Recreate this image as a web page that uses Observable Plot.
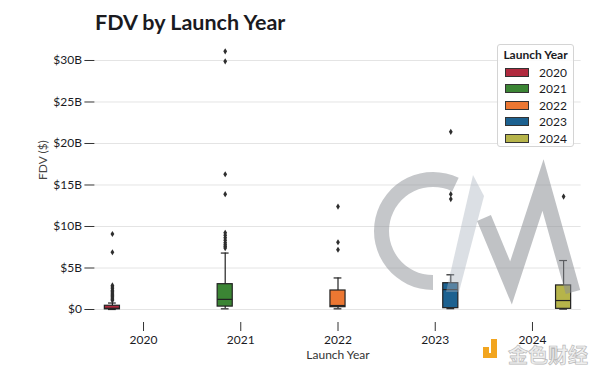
<!DOCTYPE html>
<html>
<head>
<meta charset="utf-8">
<script src="https://cdn.jsdelivr.net/npm/d3@7"></script>
<script src="https://cdn.jsdelivr.net/npm/@observablehq/plot@0.6"></script>
<style>
  html, body { margin: 0; padding: 0; background: #fff; }
  #wrap { position: relative; width: 600px; height: 373px; font-family: Lato, "Open Sans", sans-serif; overflow: hidden; }
  #title { position: absolute; left: 95px; top: 9px; font-size: 21.5px; font-weight: 700; color: #1b1b1f; white-space: nowrap; }
  #legend { position: absolute; left: 497px; top: 44px; width: 77px; height: 103px; border: 1px solid #d4d4d4; border-radius: 3px; background: rgba(255,255,255,0.85); box-sizing: border-box; }
  #legend .lt { position: absolute; left: 0; width: 100%; top: 2px; text-align: center; font-size: 12px; font-weight: 700; color: #1b1b1f; }
  #legend .row { position: absolute; left: 7px; height: 14px; display: flex; align-items: center; font-size: 12px; color: #1b1b1f; }
  #legend .sw { width: 24px; height: 9px; border: 1px solid #333; box-sizing: border-box; margin-right: 10px; }
  #wm { position: absolute; left: 0; top: 0; pointer-events: none; }
</style>
</head>
<body>
<div id="wrap">
  <div id="chart"></div>
  <div id="title">FDV by Launch Year</div>
  <div id="legend"></div>
</div>
<script>
// ---- data (values in billions of USD) ----
const years = ["2020", "2021", "2022", "2023", "2024"];
const colors = ["#b02a3e", "#3b8534", "#ec7732", "#1c6190", "#b6b44a"];
const whiskerLow  = [0.00, 0.08, 0.08, 0.10, 0.05];
const q1          = [0.02, 0.35, 0.28, 0.16, 0.08];
const median      = [0.15, 1.22, 0.48, 2.40, 1.08];
const q3          = [0.45, 3.05, 2.29, 3.17, 2.90];
const whiskerHigh = [0.78, 6.80, 3.80, 4.18, 5.90];
const outliers2020 = [9.1, 6.9, 2.9, 2.7, 2.5, 2.3, 2.15, 2.0, 1.85, 1.7, 1.55, 1.4, 1.25, 1.1];
const outliers2021 = [31.1, 29.9, 16.3, 13.9, 9.25, 8.95, 8.65, 8.35, 8.05, 7.8, 7.6, 7.4];
const outliers2022 = [12.4, 8.1, 7.2];
const outliers2023 = [21.4, 13.9, 13.3];
const outliers2024 = [13.6];
const yTicks = [0, 5, 10, 15, 20, 25, 30];
const yTickLabels = ["$0", "$5B", "$10B", "$15B", "$20B", "$25B", "$30B"];

// ---- build tables ----
const B = 1e9;
const n = years.length;
const dodge = 0.8 / n;
const boxes = years.map((y, i) => ({
  year: y, color: colors[i],
  pos: i + (i - (n - 1) / 2) * dodge,
  lo: whiskerLow[i] * B, q1: q1[i] * B, med: median[i] * B, q3: q3[i] * B, hi: whiskerHigh[i] * B
}));
const outlierLists = [outliers2020, outliers2021, outliers2022, outliers2023, outliers2024];
const flyers = outlierLists.flatMap((arr, i) => arr.map(v => ({pos: boxes[i].pos, v: v * B})));

const bw = dodge * 0.97 / 2;
const cw = dodge / 4;

const thinDiamond = {
  draw(ctx, size) {
    const h = Math.sqrt(size) * 0.72;
    const w = h * 0.62;
    ctx.moveTo(0, -h); ctx.lineTo(w, 0); ctx.lineTo(0, h); ctx.lineTo(-w, 0); ctx.closePath();
  }
};

const plot = Plot.plot({
  width: 600,
  height: 373,
  marginLeft: 94.4,
  marginRight: 19.4,
  marginTop: 37,
  marginBottom: 51,
  style: {fontFamily: "Lato, 'Open Sans', sans-serif", fontSize: "12px", color: "#1b1b1f", background: "transparent"},
  x: {type: "linear", domain: [-0.5, n - 0.5]},
  y: {domain: [-1.566 * B, 32.77 * B]},
  marks: [
    Plot.gridY(yTicks.map(t => t * B), {stroke: "#e4e4e4", strokeOpacity: 1}),
    Plot.axisY(yTicks.map(t => t * B), {tickFormat: (d, i) => yTickLabels[i], tickSize: 10, tickPadding: 3, label: null, stroke: "#333", fontSize: 12}),
    Plot.axisX([0, 1, 2, 3, 4], {tickFormat: d => years[d], tickSize: 9, tickPadding: 4, label: null, stroke: "#333", fontSize: 12}),
    Plot.text(["Launch Year"], {text: d => d, frameAnchor: "bottom", dy: 32.5, fontSize: 12, fill: "#333", lineAnchor: "middle"}),
    Plot.text(["FDV ($)"], {text: d => d, frameAnchor: "left", dx: -52, rotate: -90, fontSize: 12, fill: "#444", lineAnchor: "middle"}),
    Plot.ruleX(boxes, {x: "pos", y1: "q3", y2: "hi", stroke: "#222", strokeWidth: 1.2}),
    Plot.ruleX(boxes, {x: "pos", y1: "lo", y2: "q1", stroke: "#222", strokeWidth: 1.2}),
    Plot.ruleY(boxes, {y: "hi", x1: d => d.pos - cw, x2: d => d.pos + cw, stroke: "#222", strokeWidth: 1.2}),
    Plot.ruleY(boxes, {y: "lo", x1: d => d.pos - cw, x2: d => d.pos + cw, stroke: "#222", strokeWidth: 1.2}),
    Plot.rect(boxes, {x1: d => d.pos - bw, x2: d => d.pos + bw, y1: "q1", y2: "q3", fill: "color", stroke: "#222", strokeWidth: 1.2}),
    Plot.ruleY(boxes, {y: "med", x1: d => d.pos - bw, x2: d => d.pos + bw, stroke: "#222", strokeWidth: 1.2}),
    Plot.dot(flyers, {x: "pos", y: "v", symbol: thinDiamond, r: 2.4, fill: "#2e2e2e", stroke: "none"})
  ]
});
document.getElementById("chart").appendChild(plot);

// ---- legend ----
const leg = document.getElementById("legend");
leg.innerHTML = '<div class="lt">Launch Year</div>' + years.map((y, i) =>
  `<div class="row" style="top:${20 + i * 16.5}px"><div class="sw" style="background:${colors[i]}"></div>${y}</div>`).join("");

// ---- watermark (decorative overlay) ----
const wm = d3.select("#wrap").append("svg").attr("id", "wm").attr("width", 600).attr("height", 373);
const arc = d3.arc().innerRadius(44).outerRadius(59).startAngle(Math.PI).endAngle(2 * Math.PI + 0.45);
wm.append("path").attr("d", arc()).attr("transform", "translate(433,231)").attr("fill", "rgba(140,143,150,0.5)");
wm.append("path").attr("d", "M473,175 L484,196 L459,292 L446,292 Z").attr("fill", "rgba(170,178,190,0.42)");
wm.append("path").attr("d", "M484,218 L511,283 L543,185 L573,292").attr("fill", "none")
  .attr("stroke", "rgba(140,143,150,0.55)").attr("stroke-width", 15).attr("stroke-linejoin", "miter");
const logo = wm.append("g");
logo.append("rect").attr("x", 483).attr("y", 347).attr("width", 6).attr("height", 6).attr("fill", "#f2a51f");
logo.append("path").attr("d", "M491,339 h6 v19 h-14 v-5 h8 Z").attr("fill", "#f2a51f");
logo.append("text").attr("x", 508).attr("y", 363).text("金色财经")
  .attr("font-family", "'Noto Sans CJK SC', sans-serif").attr("font-size", 20).attr("font-weight", 700)
  .attr("fill", "#efefef").attr("stroke", "#b9b9b9").attr("stroke-width", 0.7);
</script>
</body>
</html>
